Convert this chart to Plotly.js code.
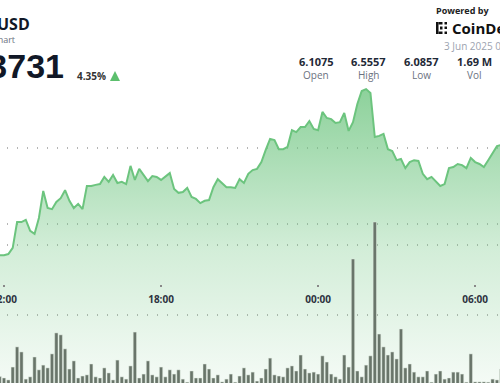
<!DOCTYPE html>
<html>
<head>
<meta charset="utf-8">
<script src="https://cdn.plot.ly/plotly-3.0.1.min.js"></script>
<style>
  html, body { margin: 0; padding: 0; background: #fff; overflow: hidden; }
  #chart { width: 500px; height: 383px; }
</style>
</head>
<body>
<div id="chart"></div>
<script>
// ---- data (10-minute intervals, starting 2 Jun 2025 11:50) ----
const startDay = 2;
const startMinutes = 11 * 60 + 50;
const stepMinutes = 10;

const prices = [
  6.118, 6.118, 6.121, 6.137, 6.205, 6.205, 6.211, 6.182, 6.174, 6.216,
  6.287, 6.242, 6.239, 6.258, 6.268, 6.289, 6.261, 6.242, 6.253, 6.239,
  6.300, 6.300, 6.303, 6.305, 6.324, 6.311, 6.329, 6.308, 6.311, 6.305,
  6.353, 6.316, 6.345, 6.329, 6.313, 6.326, 6.324, 6.316, 6.326, 6.334,
  6.292, 6.282, 6.284, 6.295, 6.271, 6.266, 6.255, 6.261, 6.263, 6.297,
  6.318, 6.308, 6.297, 6.297, 6.295, 6.318, 6.308, 6.332, 6.342, 6.345,
  6.363, 6.395, 6.424, 6.421, 6.397, 6.397, 6.403, 6.447, 6.442, 6.455,
  6.455, 6.471, 6.450, 6.447, 6.495, 6.479, 6.476, 6.466, 6.468, 6.492,
  6.445, 6.468, 6.516, 6.550, 6.555, 6.545, 6.429, 6.432, 6.437, 6.397,
  6.392, 6.368, 6.371, 6.347, 6.363, 6.368, 6.366, 6.332, 6.318, 6.324,
  6.311, 6.300, 6.305, 6.347, 6.350, 6.358, 6.355, 6.347, 6.374, 6.363,
  6.358, 6.350, 6.368, 6.387, 6.405, 6.408
];

// volume per 10-minute bar (thousands)
const volumes = [
  3.0, 2.5, 1.8, 6.4, 13.6, 11.8, 2.1, 2.9, 10.0, 5.4,
  7.1, 6.1, 11.1, 18.6, 17.9, 12.9, 5.7, 8.6, 2.5, 3.2,
  3.6, 7.5, 2.9, 2.5, 6.1, 4.3, 1.8, 8.9, 2.9, 2.1,
  6.8, 18.9, 2.5, 3.9, 8.6, 3.6, 2.9, 6.4, 2.9, 5.4,
  3.9, 5.4, 2.1, 1.0, 5.0, 2.5, 2.5, 7.5, 5.7, 2.5,
  3.6, 1.1, 2.1, 3.9, 1.0, 3.2, 6.1, 3.6, 4.6, 1.4,
  2.5, 5.7, 9.6, 3.6, 3.2, 2.9, 6.1, 6.8, 5.0, 10.7,
  5.7, 4.3, 4.6, 3.9, 10.4, 8.2, 3.9, 2.9, 2.1, 10.7,
  6.4, 45.0, 5.0, 2.9, 7.1, 10.4, 58.2, 18.2, 13.6, 10.7,
  11.8, 9.3, 20.0, 6.1, 7.5, 4.6, 2.9, 2.9, 5.0, 1.0,
  3.9, 5.0, 2.1, 2.5, 4.6, 4.6, 3.9, 1.0, 11.1, 1.1,
  1.1, 1.1, 1.0, 2.1, 1.8, 5.7
];

const priceGridValues = [6.2, 6.4];
const volumeGridValues = [25, 50];

const header = { pair: "USD", sub: "Chart", price: "6.3731", change: "4.35%" };
const statValues = ["6.1075", "6.5557", "6.0857", "1.69 M"];
const statLabels = ["Open", "High", "Low", "Vol"];
const dateText = "3 Jun 2025 09:00";

// ---- build time stamps ----
function pad(n) { return (n < 10 ? "0" : "") + n; }
const times = prices.map((_, i) => {
  const total = startMinutes + stepMinutes * i;
  const day = startDay + Math.floor(total / 1440);
  const m = total % 1440;
  return "2025-06-" + pad(day) + " " + pad(Math.floor(m / 60)) + ":" + pad(m % 60);
});

// ---- helpers: pixel -> paper ----
const W = 500, H = 383;
const px = x => x / W;
const py = y => 1 - y / H;

const gridStyle = {
  showgrid: true, gridcolor: "#b5b5b5", gridwidth: 1.5,
  griddash: "0px,6.5px,1.5px,2px",
  zeroline: false, showline: false, showticklabels: false, ticks: ""
};

const priceTrace = {
  type: "scatter", mode: "lines",
  x: times, y: prices,
  line: { color: "#6cc47e", width: 2 },
  fill: "tozeroy",
  fillgradient: {
    type: "vertical", start: 5.78, stop: 6.56,
    colorscale: [
      [0, "rgba(108,196,126,0.07)"],
      [0.45, "rgba(108,196,126,0.30)"],
      [1, "rgba(108,196,126,0.78)"]
    ]
  },
  hoverinfo: "skip"
};

const volumeTrace = {
  type: "bar", x: times, y: volumes, yaxis: "y2",
  width: 7.6 * 60 * 1000,
  marker: { color: "#69756a", line: { color: "rgba(225,235,225,0.8)", width: 0.6 } },
  hoverinfo: "skip"
};

const font = "Open Sans, Roboto, sans-serif";
const ann = (x, y, text, opts) => Object.assign({
  xref: "paper", yref: "paper", x: px(x), y: py(y),
  xanchor: "left", yanchor: "middle", text: text, showarrow: false,
  borderpad: 0,
  font: { family: font, size: 10, color: "#222" }
}, opts);

const statCenters = [316, 368, 421, 474];
const annotations = [
  ann(31, 23.5, header.pair, { xanchor: "right", font: { family: font, size: 16, color: "#111827", weight: "bold" } }),
  ann(15.5, 39.5, header.sub, { xanchor: "right", font: { family: font, size: 9, color: "#6b7280" } }),
  ann(65, 66, header.price, { xanchor: "right", font: { family: "Liberation Sans, Arial, sans-serif", size: 34, color: "#111827", weight: "bold" } }),
  ann(76, 76, header.change, { font: { family: font, size: 10, color: "#333", weight: "bold" } }),
  ann(435, 10, "Powered by", { font: { family: font, size: 9, color: "#222", weight: "bold" } }),
  ann(451, 28.5, "CoinDesk", { font: { family: font, size: 15, color: "#111", weight: "bold" } }),
  ann(443, 46, dateText, { font: { family: font, size: 10, color: "#9ca3af" } })
];
statValues.forEach((v, i) => {
  annotations.push(ann(statCenters[i], 61, v, { xanchor: "center", font: { family: font, size: 11, color: "#1f2937", weight: "bold" } }));
  annotations.push(ann(statCenters[i], 74.5, statLabels[i], { xanchor: "center", font: { family: font, size: 10, color: "#6b7280" } }));
});

const rect = (x0, y0, x1, y1, color) => ({
  type: "rect", xref: "paper", yref: "paper",
  x0: px(x0), x1: px(x1), y0: py(y1), y1: py(y0),
  fillcolor: color, line: { width: 0 }
});
const shapes = [
  // up triangle
  { type: "path", xref: "paper", yref: "paper",
    path: "M " + px(110) + " " + py(81) + " L " + px(120) + " " + py(81) + " L " + px(115) + " " + py(71) + " Z",
    fillcolor: "#5cbf6d", line: { width: 0 } },
  // CoinDesk logo mark
  rect(436, 22, 438.5, 34, "#111"),
  rect(438.5, 22, 442.5, 24.5, "#111"),
  rect(438.5, 31.5, 442.5, 34, "#111"),
  rect(440, 26.5, 442.5, 29.5, "#111"),
  rect(444.5, 22, 447, 24.5, "#111"),
  rect(444.5, 26.5, 447, 29, "#111"),
  rect(444.5, 31.5, 447, 34, "#111")
];

const layout = {
  width: W, height: H,
  margin: { l: 0, r: 0, t: 0, b: 0, pad: 0 },
  paper_bgcolor: "#ffffff", plot_bgcolor: "#ffffff",
  showlegend: false,
  xaxis: {
    type: "date",
    range: ["2025-06-02 11:50:50", "2025-06-03 06:57:00"],
    anchor: "free", position: 1 - 284 / H,
    tickformat: "%H:%M", dtick: 6 * 3600 * 1000, tick0: "2025-06-02 00:00",
    ticks: "outside", ticklen: 2, tickwidth: 1.5, tickcolor: "#888",
    ticklabelstandoff: 4,
    showgrid: false, showline: false, zeroline: false,
    ticklabeloverflow: "allow",
    tickfont: { family: font, size: 10, color: "#2d3340", weight: "bold" }
  },
  yaxis: Object.assign({ range: [5.7816, 6.7895], tickvals: priceGridValues }, gridStyle),
  yaxis2: Object.assign({ overlaying: "y", side: "right", range: [0.71, 137.5], tickvals: volumeGridValues }, gridStyle),
  annotations: annotations,
  shapes: shapes
};

Plotly.newPlot("chart", [priceTrace, volumeTrace], layout, { staticPlot: true, displayModeBar: false });
</script>
</body>
</html>
